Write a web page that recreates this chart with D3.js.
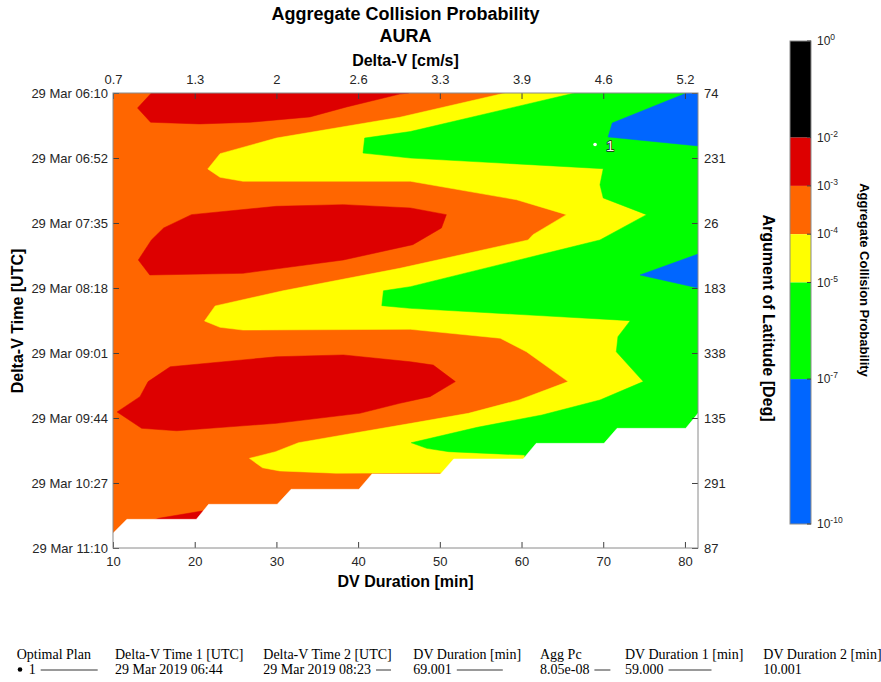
<!DOCTYPE html>
<html>
<head>
<meta charset="utf-8">
<script src="https://cdn.jsdelivr.net/npm/d3@7"></script>
<style>
  body { margin: 0; background: #fff; }
  svg text { font-family: "Liberation Sans", Arial, sans-serif; fill: #262626; }
  .tbl text { font-family: "Liberation Serif", "Times New Roman", serif; fill: #000; }
</style>
</head>
<body>
<svg id="chart" width="881" height="682"></svg>
<script>
// ---- data ----
// x: DV duration [min], y: minutes after 29 Mar 06:10 UTC
const durTicks = [10, 20, 30, 40, 50, 60, 70, 80];
const dvLabels = ['0.7', '1.3', '2', '2.6', '3.3', '3.9', '4.6', '5.2'];
const timeTicks = [0, 42.86, 85.71, 128.57, 171.43, 214.29, 257.14, 300];
const timeLabels = ['29 Mar 06:10', '29 Mar 06:52', '29 Mar 07:35', '29 Mar 08:18',
  '29 Mar 09:01', '29 Mar 09:44', '29 Mar 10:27', '29 Mar 11:10'];
const latLabels = ['74', '231', '26', '183', '338', '135', '291', '87'];

// log10(Pc) band edges of the colour bar and their colours
const pcEdges = [0, -2, -3, -4, -5, -7, -10];
const pcColors = ['#000000', '#dd0000', '#ff6600', '#ffff00', '#00ff00', '#0066ff'];

// contour regions as [duration, minutes]
const red1 = [[14.7, 0], [13.0, 9.9], [14.6, 19.3], [20.6, 20.4], [26.8, 19.3], [34.1, 15.8],
  [38.6, 9.2], [45.1, 0.7], [46.2, 0]];
const red2 = [[19.6, 80.2], [30.0, 74.7], [38.2, 73.6], [46.4, 75.8], [50.8, 80.2], [50.2, 89.0],
  [46.7, 100.0], [38.2, 110.1], [25.9, 118.9], [14.5, 120.0], [13.1, 110.1], [14.7, 96.9], [16.2, 89.0]];
const red3 = [[17.0, 180.5], [30.0, 173.9], [38.2, 172.7], [46.4, 177.2], [49.2, 179.4], [51.9, 190.3],
  [48.8, 200.2], [45.1, 204.6], [40.2, 211.2], [30.0, 217.8], [17.8, 222.7], [13.5, 221.1],
  [10.5, 210.3], [13.3, 200.2], [14.3, 190.3]];
const red4 = [[14.8, 282], [15.6, 280.4], [20.9, 275.6], [21.2, 275.6], [21.5, 282]];

// Pc below 1e-4 (yellow and everything lower)
const below4 = [[58.0, 0], [45.1, 16.0], [30.0, 29.7], [23.1, 40.0], [21.6, 50.1], [23.1, 55.6],
  [25.9, 58.2], [46.4, 58.2], [59.4, 70.4], [65.5, 80.2], [61.4, 93.4], [60.8, 96.9], [45.1, 115.6],
  [30.8, 130.4], [22.5, 140.4], [21.2, 150.3], [23.1, 154.5], [25.9, 156.3], [46.4, 155.8],
  [57.4, 161.7], [60.6, 170.6], [65.7, 190.3], [59.7, 202.4], [53.5, 211.2], [46.5, 217.8],
  [40.1, 223.7], [32.7, 230.6], [29.9, 236.5], [26.7, 240.9], [28.3, 247.1], [30.4, 249.2],
  [37.3, 250.7], [50.1, 250.4], [50.1, 300], [81.6, 300], [81.6, 0]];
// Pc below 1e-5
const below5 = [[66.5, 0], [46.4, 25.4], [40.8, 29.7], [40.6, 39.6], [46.4, 42.9], [70.0, 49.9],
  [69.6, 60.5], [70.0, 69.2], [75.3, 80.2], [69.6, 96.9], [46.4, 127.7], [43.1, 130.4],
  [42.9, 140.2], [46.4, 142.0], [73.3, 150.1], [71.8, 160.7], [71.6, 170.6], [74.9, 190.3],
  [69.6, 202.4], [62.5, 212.3], [54.6, 220.4], [46.5, 230.6], [48.4, 234.3], [51.1, 236.5],
  [60.4, 238.7], [60.4, 300], [81.6, 300], [81.6, 0]];
// Pc below 1e-7
const blue1 = [[71.1, 19.8], [80.2, 0], [81.6, 0], [81.6, 34.9], [70.6, 29.0]];
const blue2 = [[81.6, 106.2], [74.5, 120.0], [81.6, 128.5]];
// no solution (white)
const noData = [[10, 290.3], [11.7, 281.1], [20.2, 281.1], [21.7, 271.2], [30.1, 271.2], [31.8, 261.3],
  [40.1, 261.3], [41.7, 251.2], [50.1, 251.2], [51.7, 241.3], [60.2, 241.3], [61.8, 231.0],
  [70.1, 231.0], [71.7, 221.1], [80.1, 221.1], [81.6, 211.2], [81.6, 300], [10, 300]];

const optDur = 69.001, optTime = 34, optLabel = '1';

const tblHeads = ['Optimal Plan', 'Delta-V Time 1 [UTC]', 'Delta-V Time 2 [UTC]', 'DV Duration [min]',
  'Agg Pc', 'DV Duration 1 [min]', 'DV Duration 2 [min]'];
const tblVals = ['1', '29 Mar 2019 06:44', '29 Mar 2019 08:23', '69.001', '8.05e-08', '59.000', '10.001'];

// ---- layout ----
const svg = d3.select('#chart');
const x = d3.scaleLinear().domain([10, 81.6]).range([113, 698]);
const y = d3.scaleLinear().domain([0, 300]).range([93, 548]);
const cb = d3.scaleLinear().domain([0, -10]).range([41, 524]);

svg.append('clipPath').attr('id', 'plotClip')
  .append('rect')
  .attr('x', x(10)).attr('y', y(0))
  .attr('width', x(81.6) - x(10)).attr('height', y(300) - y(0));

let plot = svg.append('g').attr('clip-path', 'url(#plotClip)');
let line = d3.line().x(d => x(d[0])).y(d => y(d[1]));

// base band (1e-4 .. 1e-3)
plot.append('rect')
  .attr('x', x(10)).attr('y', y(0))
  .attr('width', x(81.6) - x(10)).attr('height', y(300) - y(0))
  .style('fill', pcColors[2]);

let layers = [
  { rings: [red1, red2, red3, red4], color: pcColors[1] },
  { rings: [below4], color: pcColors[3] },
  { rings: [below5], color: pcColors[4] },
  { rings: [blue1, blue2], color: pcColors[5] },
  { rings: [noData], color: '#ffffff' }
];
layers.forEach(l => {
  plot.selectAll(null)
    .data(l.rings)
    .enter()
    .append('path')
    .attr('d', d => line(d) + 'Z')
    .style('fill', l.color)
    .style('stroke', l.color)
    .style('stroke-width', 0.5);
});

// optimal plan marker
plot.append('circle')
  .attr('cx', x(optDur)).attr('cy', y(optTime)).attr('r', 1.8)
  .style('fill', '#fff');
svg.append('text')
  .attr('x', x(optDur) + 11).attr('y', y(optTime) + 6)
  .style('font-size', '15px')
  .style('fill', '#f4f4f4').style('stroke', '#222').style('stroke-width', 1.3)
  .style('paint-order', 'stroke')
  .text(optLabel);

// axes (ticks point inward)
function styleAxis(g) {
  g.select('.domain').remove();
  g.selectAll('.tick line').attr('stroke', '#404040');
  g.selectAll('.tick text').style('font-size', '13px').style('fill', '#262626')
    .style('font-family', '"Liberation Sans", Arial, sans-serif');
}
svg.append('g').attr('transform', `translate(0,${y(300)})`)
  .call(d3.axisBottom(x).tickValues(durTicks).tickSize(-6).tickPadding(9).tickFormat(d3.format('d')))
  .call(styleAxis);
svg.append('g').attr('transform', `translate(0,${y(0)})`)
  .call(d3.axisTop(x).tickValues(durTicks).tickSize(-6).tickPadding(9).tickFormat((d, i) => dvLabels[i]))
  .call(styleAxis);
svg.append('g').attr('transform', `translate(${x(10)},0)`)
  .call(d3.axisLeft(y).tickValues(timeTicks).tickSize(-6).tickPadding(5).tickFormat((d, i) => timeLabels[i]))
  .call(styleAxis);
svg.append('g').attr('transform', `translate(${x(81.6)},0)`)
  .call(d3.axisRight(y).tickValues(timeTicks).tickSize(-6).tickPadding(6).tickFormat((d, i) => latLabels[i]))
  .call(styleAxis);

svg.append('rect')
  .attr('x', x(10)).attr('y', y(0))
  .attr('width', x(81.6) - x(10)).attr('height', y(300) - y(0))
  .style('fill', 'none').style('stroke', '#8a8a8a').style('stroke-width', 1);

// titles and axis labels
let bold = (sel, size) => sel.style('font-weight', 'bold').style('font-size', size + 'px').style('fill', '#000');
svg.append('text').attr('x', 405.5).attr('y', 20).attr('text-anchor', 'middle')
  .text('Aggregate Collision Probability').call(bold, 18);
svg.append('text').attr('x', 405.5).attr('y', 42).attr('text-anchor', 'middle')
  .text('AURA').call(bold, 18);
svg.append('text').attr('x', 405.5).attr('y', 66).attr('text-anchor', 'middle')
  .text('Delta-V [cm/s]').call(bold, 16);
svg.append('text').attr('x', 405.5).attr('y', 587).attr('text-anchor', 'middle')
  .text('DV Duration [min]').call(bold, 16);
svg.append('text').attr('transform', 'translate(23,321) rotate(-90)').attr('text-anchor', 'middle')
  .text('Delta-V Time [UTC]').call(bold, 16);
svg.append('text').attr('transform', 'translate(763,318) rotate(90)').attr('text-anchor', 'middle')
  .text('Argument of Latitude [Deg]').call(bold, 16);

// colour bar
let bar = svg.append('g');
bar.selectAll('rect')
  .data(pcColors)
  .enter()
  .append('rect')
  .attr('x', 790).attr('width', 21)
  .attr('y', (d, i) => cb(pcEdges[i]))
  .attr('height', (d, i) => cb(pcEdges[i + 1]) - cb(pcEdges[i]))
  .style('fill', d => d);
bar.append('rect')
  .attr('x', 790).attr('width', 21)
  .attr('y', cb(0)).attr('height', cb(-10) - cb(0))
  .style('fill', 'none').style('stroke', '#8a8a8a');
bar.selectAll('line')
  .data(pcEdges)
  .enter()
  .append('line')
  .attr('x1', 807).attr('x2', 811)
  .attr('y1', d => cb(d)).attr('y2', d => cb(d))
  .style('stroke', '#404040');
let cbl = bar.selectAll('text.cbl')
  .data(pcEdges)
  .enter()
  .append('text')
  .attr('class', 'cbl')
  .attr('x', 817)
  .attr('y', d => cb(d) + 4)
  .style('font-size', '12px');
cbl.append('tspan').text('10');
cbl.append('tspan').attr('dy', -5).style('font-size', '8.5px').text(d => d);

svg.append('text').attr('transform', 'translate(860,280) rotate(90)').attr('text-anchor', 'middle')
  .text('Aggregate Collision Probability').call(bold, 13);

// summary table
const colX = [16.7, 115, 263.3, 413.3, 540, 625, 763.3];
const ruleLen = [57, 0, 15, 46, 16, 43, 0];
let tbl = svg.append('g').attr('class', 'tbl');
tbl.selectAll('text.h')
  .data(tblHeads)
  .enter()
  .append('text')
  .attr('class', 'h')
  .attr('x', (d, i) => colX[i]).attr('y', 659)
  .style('font-size', '14px')
  .text(d => d);
let vals = tbl.selectAll('text.v')
  .data(tblVals)
  .enter()
  .append('text')
  .attr('class', 'v')
  .attr('x', (d, i) => colX[i] + (i === 0 ? 12 : 0)).attr('y', 674)
  .style('font-size', '14px')
  .text(d => d);
tbl.append('circle').attr('cx', 20).attr('cy', 669.5).attr('r', 2.3).style('fill', '#000');
vals.each(function(d, i) {
  if (!ruleLen[i]) return;
  let x0 = (i === 0 ? colX[i] + 12 : colX[i]) + this.getComputedTextLength() + 5;
  tbl.append('line')
    .attr('x1', x0).attr('x2', x0 + ruleLen[i])
    .attr('y1', 670).attr('y2', 670)
    .style('stroke', '#000').style('stroke-width', 0.8);
});
</script>
</body>
</html>
